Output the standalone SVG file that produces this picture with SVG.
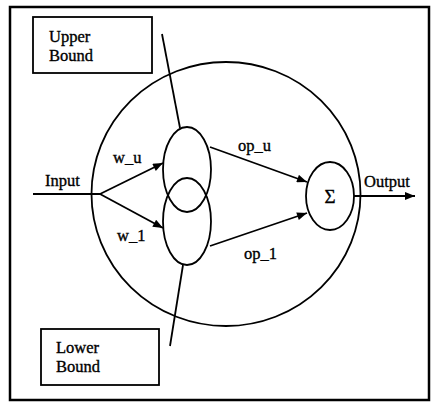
<svg xmlns="http://www.w3.org/2000/svg" width="432" height="402" viewBox="0 0 432 402">
<defs>
<style>
.ln{stroke:#000;stroke-width:1.8;fill:none}
.sh{stroke:#000;stroke-width:1.8;fill:none}
.bx{stroke:#000;stroke-width:1.8;fill:#fff}
.t{font-family:"Liberation Serif","Times New Roman",serif;font-size:16.5px;fill:#000;stroke:#000;stroke-width:0.35}
</style>
<marker id="ah" viewBox="0 0 10 8" refX="10" refY="4" markerWidth="11" markerHeight="8" markerUnits="userSpaceOnUse" orient="auto">
<path d="M0,0 L10,4 L0,8 Z" fill="#000"/>
</marker>
</defs>
<rect x="0" y="0" width="432" height="402" fill="#fff"/>
<rect x="10" y="7" width="419" height="393" fill="none" stroke="#000" stroke-width="2.5"/>
<g id="neuron"><ellipse cx="226" cy="194" rx="134.5" ry="132" class="sh" stroke-width="2"/></g>
<g id="upper-bound"><rect x="33" y="17" width="119" height="56" class="bx"/><text class="t" x="49" y="42">Upper</text><text class="t" x="49" y="61">Bound</text></g>
<g id="lower-bound"><rect x="41" y="329" width="118" height="56" class="bx"/><text class="t" x="56" y="353">Lower</text><text class="t" x="56" y="372">Bound</text></g>
<g id="upper-node"><ellipse cx="187" cy="169.5" rx="24" ry="42.5" class="sh"/></g>
<g id="lower-node"><ellipse cx="187" cy="221.5" rx="24" ry="43.5" class="sh"/></g>
<g id="sum-node"><ellipse cx="330" cy="196" rx="24" ry="34" class="sh"/><text class="t" x="330" y="203" text-anchor="middle" style="font-size:19px">Σ</text></g>
<g id="connectors">
<line class="ln" x1="162" y1="34" x2="180" y2="128"/>
<line class="ln" x1="183" y1="265" x2="170" y2="346"/>
<line class="ln" x1="33" y1="194" x2="100" y2="194"/>
<line class="ln" x1="100" y1="194" x2="163" y2="163" marker-end="url(#ah)"/>
<line class="ln" x1="100" y1="194" x2="163" y2="228" marker-end="url(#ah)"/>
<line class="ln" x1="210" y1="147" x2="307" y2="182" marker-end="url(#ah)"/>
<line class="ln" x1="210" y1="246" x2="307" y2="213" marker-end="url(#ah)"/>
<line class="ln" x1="354" y1="196" x2="415" y2="196" marker-end="url(#ah)"/>
</g>
<g id="labels">
<text class="t" x="45" y="186">Input</text>
<text class="t" x="113" y="163">w_u</text>
<text class="t" x="117" y="241">w_1</text>
<text class="t" x="238" y="151">op_u</text>
<text class="t" x="244" y="259">op_1</text>
<text class="t" x="364" y="187">Output</text>
</g>
</svg>
